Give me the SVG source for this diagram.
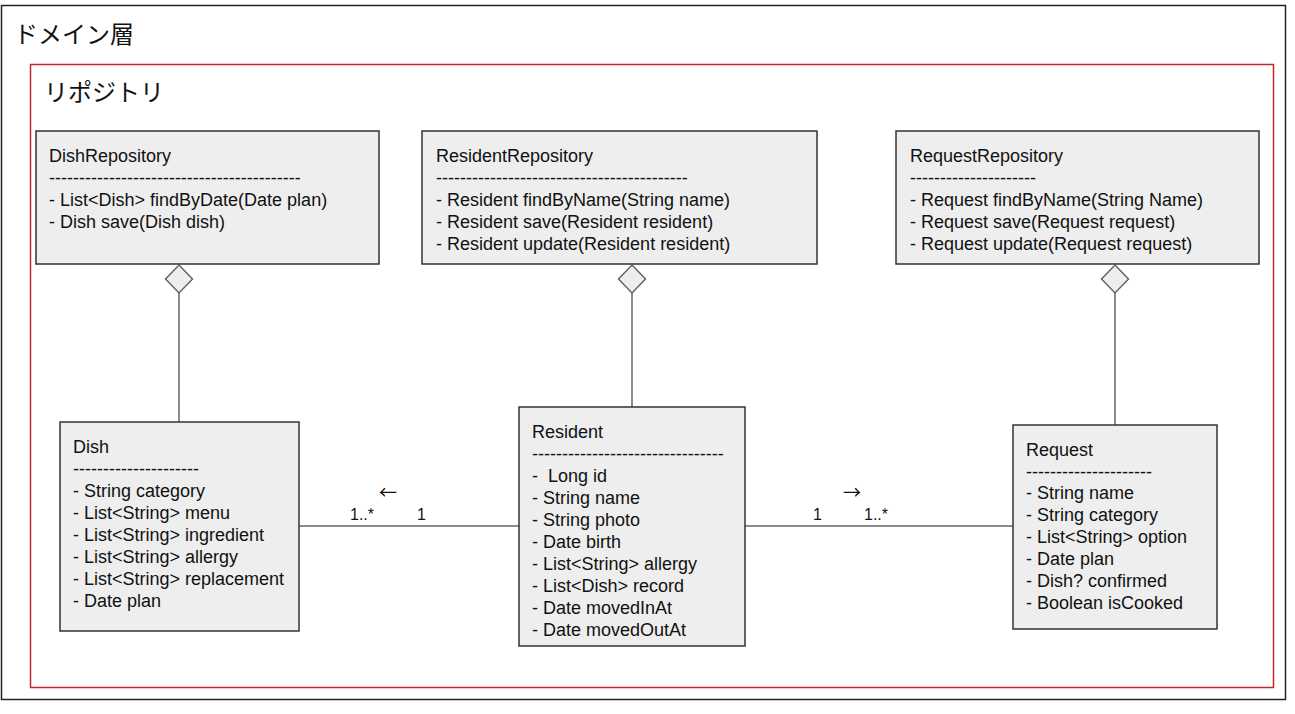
<svg xmlns="http://www.w3.org/2000/svg" width="1295" height="714" viewBox="0 0 1295 714">
<style>
.t{font-family:"Liberation Sans",Arial,sans-serif;font-size:18px;fill:#111}
.jp{font-family:"Noto Sans CJK JP","Noto Sans",sans-serif;font-size:24px;fill:#111}
.ar{font-family:"Noto Sans CJK JP","DejaVu Sans",sans-serif;font-size:18px;fill:#111}
.box{fill:#eeeeee;stroke:#333;stroke-width:1.5}
.ln{stroke:#666;stroke-width:1.5;fill:none}
.dia{fill:#eeeeee;stroke:#666;stroke-width:1.5}
</style>
<rect width="1295" height="714" fill="#fff"/>
<g id="frame-domain">
<rect x="1.5" y="5.5" width="1284" height="694" fill="none" stroke="#222" stroke-width="1.5"/>
<text class="jp" x="14" y="43">ドメイン層</text>
</g>
<g id="frame-repo">
<rect x="30.5" y="64.5" width="1243" height="623" fill="none" stroke="#c0282d" stroke-width="1.5"/>
<text class="jp" x="44" y="101">リポジトリ</text>
</g>
<g id="connectors">
<line class="ln" x1="179" y1="293" x2="179" y2="422"/>
<line class="ln" x1="632" y1="293" x2="632" y2="407"/>
<line class="ln" x1="1115" y1="293" x2="1115" y2="425"/>
<polygon class="dia" points="179,265 192.5,279 179,293 165.5,279"/>
<polygon class="dia" points="632,265 645.5,279 632,293 618.5,279"/>
<polygon class="dia" points="1115,265 1128.5,279 1115,293 1101.5,279"/>
<line class="ln" x1="299" y1="526" x2="519" y2="526"/>
<line class="ln" x1="745" y1="526" x2="1013" y2="526"/>
<text class="t" x="350" y="520" style="font-size:16px">1..*</text>
<text class="t" x="417" y="520" style="font-size:16px">1</text>
<text class="ar" x="379" y="499">←</text>
<text class="t" x="813" y="520" style="font-size:16px">1</text>
<text class="t" x="864" y="520" style="font-size:16px">1..*</text>
<text class="ar" x="843" y="499">→</text>
</g>
<g id="DishRepository">
<rect class="box" x="36" y="131" width="343" height="133"/>
<text class="t" x="49" y="162">DishRepository</text>
<text class="t" x="49" y="184">------------------------------------------</text>
<text class="t" x="49" y="206">- List&lt;Dish&gt; findByDate(Date plan)</text>
<text class="t" x="49" y="228">- Dish save(Dish dish)</text>
</g>
<g id="ResidentRepository">
<rect class="box" x="422" y="131" width="395" height="133"/>
<text class="t" x="436" y="162">ResidentRepository</text>
<text class="t" x="436" y="184">------------------------------------------</text>
<text class="t" x="436" y="206">- Resident findByName(String name)</text>
<text class="t" x="436" y="228">- Resident save(Resident resident)</text>
<text class="t" x="436" y="250">- Resident update(Resident resident)</text>
</g>
<g id="RequestRepository">
<rect class="box" x="896" y="131" width="363" height="133"/>
<text class="t" x="910" y="162">RequestRepository</text>
<text class="t" x="910" y="184">---------------------</text>
<text class="t" x="910" y="206">- Request findByName(String Name)</text>
<text class="t" x="910" y="228">- Request save(Request request)</text>
<text class="t" x="910" y="250">- Request update(Request request)</text>
</g>
<g id="Dish">
<rect class="box" x="60" y="422" width="239" height="209"/>
<text class="t" x="73" y="453">Dish</text>
<text class="t" x="73" y="475">---------------------</text>
<text class="t" x="73" y="497">- String category</text>
<text class="t" x="73" y="519">- List&lt;String&gt; menu</text>
<text class="t" x="73" y="541">- List&lt;String&gt; ingredient</text>
<text class="t" x="73" y="563">- List&lt;String&gt; allergy</text>
<text class="t" x="73" y="585">- List&lt;String&gt; replacement</text>
<text class="t" x="73" y="607">- Date plan</text>
</g>
<g id="Resident">
<rect class="box" x="519" y="407" width="226" height="239"/>
<text class="t" x="532" y="438">Resident</text>
<text class="t" x="532" y="460">--------------------------------</text>
<text class="t" x="532" y="482" xml:space="preserve">-  Long id</text>
<text class="t" x="532" y="504">- String name</text>
<text class="t" x="532" y="526">- String photo</text>
<text class="t" x="532" y="548">- Date birth</text>
<text class="t" x="532" y="570">- List&lt;String&gt; allergy</text>
<text class="t" x="532" y="592">- List&lt;Dish&gt; record</text>
<text class="t" x="532" y="614">- Date movedInAt</text>
<text class="t" x="532" y="636">- Date movedOutAt</text>
</g>
<g id="Request">
<rect class="box" x="1013" y="425" width="204" height="204"/>
<text class="t" x="1026" y="456">Request</text>
<text class="t" x="1026" y="478">---------------------</text>
<text class="t" x="1026" y="499">- String name</text>
<text class="t" x="1026" y="521">- String category</text>
<text class="t" x="1026" y="543">- List&lt;String&gt; option</text>
<text class="t" x="1026" y="565">- Date plan</text>
<text class="t" x="1026" y="587">- Dish? confirmed</text>
<text class="t" x="1026" y="609">- Boolean isCooked</text>
</g>
</svg>
